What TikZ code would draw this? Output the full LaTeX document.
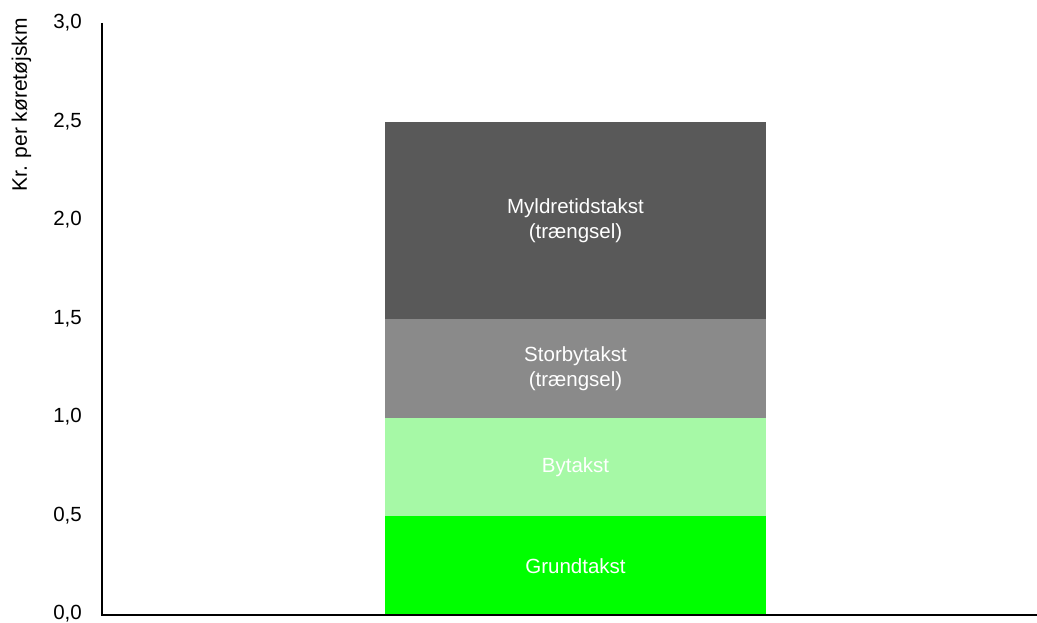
\documentclass[tikz,border=0pt]{standalone}
\usepackage{fontspec}
\setmainfont{Liberation Sans}
\definecolor{darkg}{HTML}{595959}
\definecolor{midg}{HTML}{8A8A8A}
\definecolor{lgreen}{HTML}{A6F9A6}
\definecolor{bgreen}{HTML}{00FF00}
\begin{document}
\begin{tikzpicture}[x=1pt,y=1pt,
  barseg/.style={draw=none,inner sep=0pt,minimum width=381pt,text=white,align=center,
    font=\fontsize{20.5}{25}\selectfont},
  ticklab/.style={anchor=east,inner sep=0pt,font=\fontsize{20.5}{24}\selectfont},
  axisline/.style={line width=2pt}]
\useasboundingbox (0,0) rectangle (1037,623);
% bars: unit 197pt, origin y=8
\node[barseg,fill=bgreen,minimum height=98.5pt] (g) at (575.5,57.25) {Grundtakst};
\node[barseg,fill=lgreen,minimum height=98.5pt] (b) at (575.5,155.75) {Bytakst};
\node[barseg,fill=midg,minimum height=98.5pt] (s) at (575.5,254.25) {Storbytakst\\(trængsel)};
\node[barseg,fill=darkg,minimum height=197pt] (m) at (575.5,402) {Myldretidstakst\\(trængsel)};
% axes
\coordinate (o) at (102,8);
\coordinate (top) at (102,600);
\coordinate (right) at (1037,8);
\draw[axisline] (top) -- (o) -- (right);
% tick labels
\foreach \v/\t in {0/0{,}0,0.5/0{,}5,1/1{,}0,1.5/1{,}5,2/2{,}0,2.5/2{,}5,3/3{,}0}{
  \node[ticklab] at (82,9+197*\v) {\t};
}
\node[rotate=90,anchor=base west,font=\fontsize{21}{25}\selectfont,inner sep=0pt] (ylab) at (27,431) {Kr. per køretøjskm};
\end{tikzpicture}
\end{document}
